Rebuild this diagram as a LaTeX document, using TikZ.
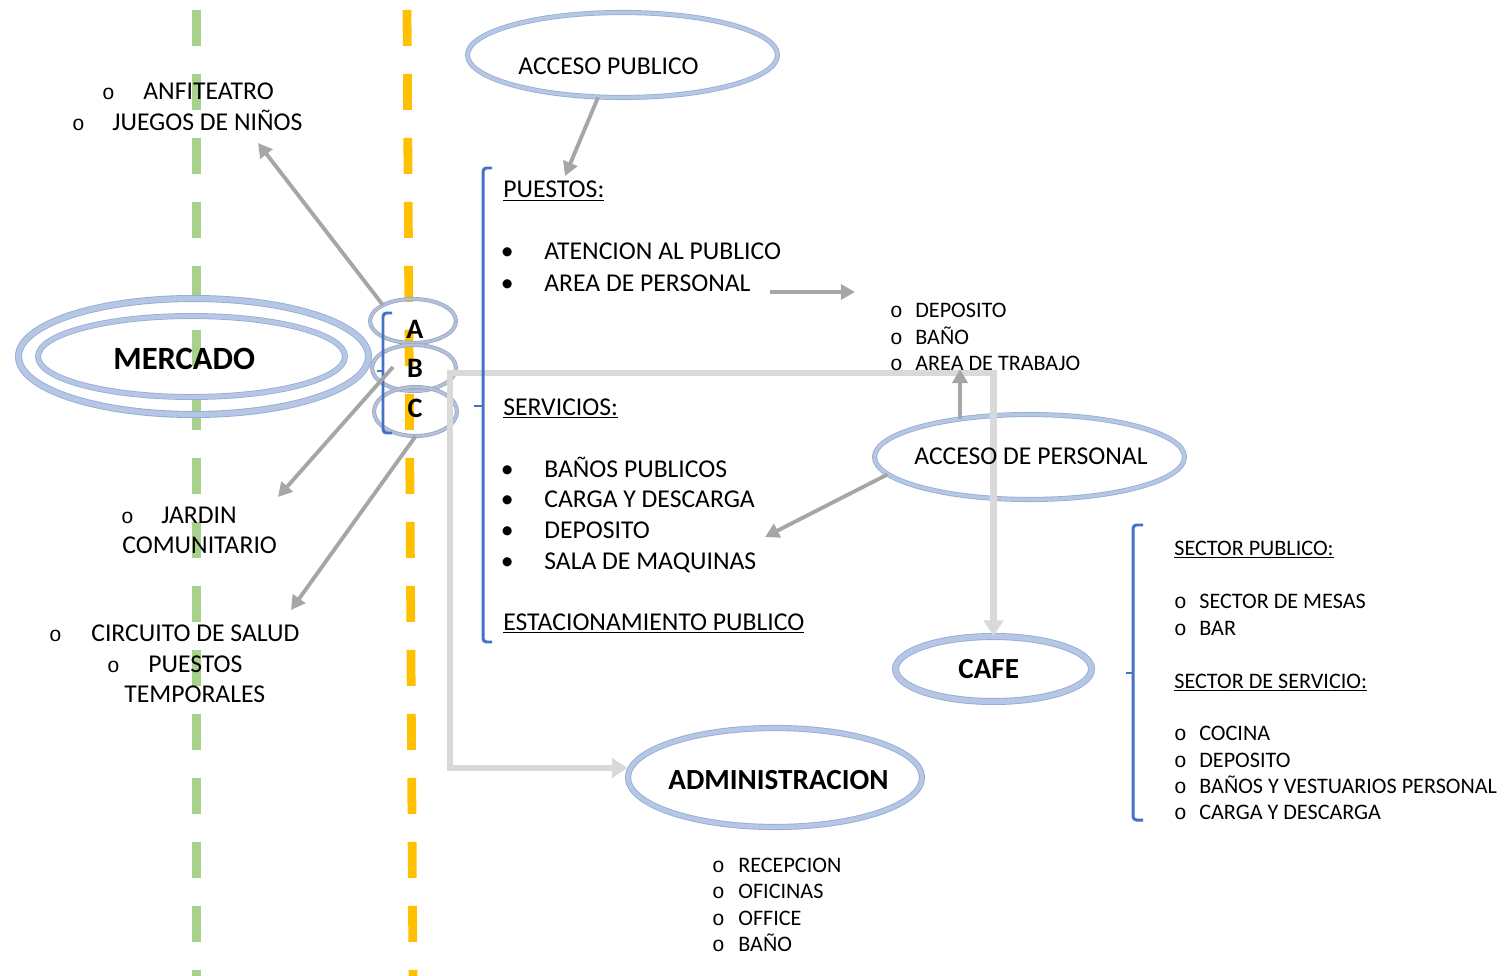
\documentclass[tikz,border=0pt]{standalone}
\usepackage{fontspec}
\setmainfont{Carlito}
\newfontfamily\monofnt{Liberation Mono}
\usetikzlibrary{shapes.geometric,arrows.meta,calc}
\newlength\pxl
\setlength\pxl{0.02cm}
\newcommand\obul{\makebox[0pt]{\monofnt\fontsize{12}{13}\selectfont o}}
\newcommand\dbul{\makebox[0pt]{•}}
\definecolor{ellout}{RGB}{150,172,212}
\definecolor{ellin}{RGB}{182,199,230}
\definecolor{abcout}{RGB}{150,165,195}
\definecolor{abcin}{RGB}{178,192,216}
\definecolor{brblue}{RGB}{68,114,196}
\definecolor{arrgray}{RGB}{166,166,166}
\definecolor{lgray}{RGB}{217,217,217}
\definecolor{dgreen}{RGB}{169,209,142}
\definecolor{dorange}{RGB}{255,192,0}
\begin{document}
\begin{tikzpicture}[x=0.02cm,y=-0.02cm,
  txt/.style={anchor=base west,inner sep=0pt,font=\fontsize{14.6}{17}\selectfont},
  stxt/.style={anchor=base west,inner sep=0pt,font=\fontsize{12.6}{15}\selectfont},
  btxt/.style={anchor=base west,inner sep=0pt,font=\bfseries\fontsize{16.6}{19}\selectfont},
  ell/.style={ellipse,inner sep=0pt,draw=ellout,double=ellin},
  abc/.style={ellipse,inner sep=0pt,draw=abcout,double=abcin,line width=0.4pt,double distance=1.5pt},
  brk/.style={draw=brblue,line width=1.7pt,rounded corners=2pt},
  garr/.style={draw=arrgray,line width=2.2pt,-{Triangle[length=8pt,width=8.5pt]}},
  lg/.style={draw=lgray,line width=3.6pt,{Triangle[length=9pt,width=11pt]}-{Triangle[length=9pt,width=11pt]}},
  dline/.style={line width=5pt,dash pattern=on 0.72cm off 0.56cm}
]
\useasboundingbox (0,0) rectangle (1510,976);

% dashed guide lines
\draw[dline,draw=dgreen] (196.5,10) -- (196.5,985);
\draw[dline,draw=dorange] (407,10) -- (413,985);

% ellipses
\node[ell,line width=0.5pt,double distance=3pt,minimum width=7cm,minimum height=2.32cm] (merc) at (193.5,356.5) {};
\node[ell,line width=0.45pt,double distance=2.5pt,minimum width=6.14cm,minimum height=1.62cm] (mercin) at (191.5,356.5) {};
\node[abc,minimum width=1.72cm,minimum height=0.88cm] (A) at (413,321) {};
\node[abc,minimum width=1.68cm,minimum height=0.92cm] (B) at (414,368) {};
\node[abc,minimum width=1.66cm,minimum height=0.98cm] (C) at (415.5,411.5) {};
\node[ell,line width=0.45pt,double distance=2pt,minimum width=6.2cm,minimum height=1.7cm] (AP) at (622.5,55) {};
\node[ell,line width=0.45pt,double distance=2pt,minimum width=6.2cm,minimum height=1.7cm] (APE) at (1029.5,457) {};
\node[ell,line width=0.5pt,double distance=3pt,minimum width=3.92cm,minimum height=1.3cm] (CAFE) at (993.5,669) {};
\node[ell,line width=0.5pt,double distance=2.5pt,minimum width=5.88cm,minimum height=1.98cm] (ADM) at (775,777.5) {};

% light grey connector
\coordinate (jn) at (450,373);
\draw[lg] ([yshift=0.19cm]ADM.west) -| (jn) -| (CAFE.north);

% brackets
\draw[brk] (492,168) -- (483,168) -- (483,642) -- (492,642);
\draw[brk] (483,406) -- (474,406);
\draw[brk] (392,313) -- (383,313) -- (383,433) -- (392,433);
\draw[brk] (383,371) -- (377,371);
\draw[brk] (1143,525) -- (1133,525) -- (1133,820) -- (1143,820);
\draw[brk] (1133,673) -- (1126,673);

% grey arrows
\coordinate (tjue) at (258,143);
\draw[garr] (A.152) -- (tjue);
\coordinate (bs) at (393,367);
\coordinate (tjar) at (278,497);
\draw[garr] (bs) -- (tjar);
\coordinate (tcir) at (291,610);
\draw[garr] (C.south) -- (tcir);
\coordinate (tpu) at (565,176);
\draw[garr] (AP.240) -- (tpu);
\coordinate (adps) at (770,292);
\coordinate (adpt) at (855,292);
\draw[garr] (adps) -- (adpt);
\coordinate (tup) at (960,369);
\draw[garr] (APE.151 -| tup) -- (tup);
\coordinate (tsv) at (765,537);
\draw[garr] (APE.187) -- (tsv);

% ellipse labels
\node[btxt,font=\bfseries\fontsize{18.5}{21}\selectfont] (tmerc) at (113,369) {MERCADO};
\node[btxt,anchor=base,font=\bfseries\fontsize{16}{19}\selectfont] (tA) at (415,338) {A};
\node[btxt,anchor=base,font=\bfseries\fontsize{16}{19}\selectfont] (tB) at (415,377) {B};
\node[btxt,anchor=base,font=\bfseries\fontsize{16}{19}\selectfont] (tC) at (415,417) {C};
\node[txt] (tAP) at (518,75) {ACCESO PUBLICO};
\node[txt] (tAPE) at (914,464) {ACCESO DE PERSONAL};
\node[btxt] (tCAFE) at (958,678) {CAFE};
\node[btxt] (tADM) at (668,789) {ADMINISTRACION};

% left lists
\node[txt] (anf) at (108,100) {\obul\hspace{35\pxl}ANFITEATRO};
\node[txt] (jue) at (78,131) {\obul\hspace{34\pxl}JUEGOS DE NIÑOS};
\node[txt] (jar) at (127,523) {\obul\hspace{34\pxl}JARDIN};
\node[txt] (com) at (122,553) {COMUNITARIO};
\node[txt] (cir) at (55,641) {\obul\hspace{36\pxl}CIRCUITO DE SALUD};
\node[txt] (pue) at (113,672) {\obul\hspace{35\pxl}PUESTOS};
\node[txt] (tem) at (124,702) {TEMPORALES};

% central lists
\node[txt] (put) at (503,198) {\underline{PUESTOS:}};
\node[txt] (ate) at (507,260) {\dbul\hspace{37\pxl}ATENCION AL PUBLICO};
\node[txt] (adp) at (507,292) {\dbul\hspace{37\pxl}AREA DE PERSONAL};
\node[stxt] (dep) at (896,317) {\obul\hspace{19\pxl}DEPOSITO};
\node[stxt] (ban) at (896,344) {\obul\hspace{19\pxl}BAÑO};
\node[stxt] (atr) at (896,370) {\obul\hspace{19\pxl}AREA DE TRABAJO};
\node[txt] (ser) at (503,415) {\underline{SERVICIOS:}};
\node[txt] (s1) at (507,477) {\dbul\hspace{37\pxl}BAÑOS PUBLICOS};
\node[txt] (s2) at (507,507.5) {\dbul\hspace{37\pxl}CARGA Y DESCARGA};
\node[txt] (s3) at (507,538) {\dbul\hspace{37\pxl}DEPOSITO};
\node[txt] (s4) at (507,569) {\dbul\hspace{37\pxl}SALA DE MAQUINAS};
\node[txt] (est) at (503,630) {\underline{ESTACIONAMIENTO PUBLICO}};

% administration list
\node[stxt] (r1) at (718,872) {\obul\hspace{20\pxl}RECEPCION};
\node[stxt] (r2) at (718,898) {\obul\hspace{20\pxl}OFICINAS};
\node[stxt] (r3) at (718,925) {\obul\hspace{20\pxl}OFFICE};
\node[stxt] (r4) at (718,951) {\obul\hspace{20\pxl}BAÑO};

% cafe list
\node[stxt] (sp) at (1174,555) {\underline{SECTOR PUBLICO:}};
\node[stxt] (c1) at (1180,608) {\obul\hspace{19\pxl}SECTOR DE MESAS};
\node[stxt] (c2) at (1180,635) {\obul\hspace{19\pxl}BAR};
\node[stxt] (ss) at (1174,688) {\underline{SECTOR DE SERVICIO:}};
\node[stxt] (c3) at (1180,740) {\obul\hspace{19\pxl}COCINA};
\node[stxt] (c4) at (1180,767) {\obul\hspace{19\pxl}DEPOSITO};
\node[stxt] (c5) at (1180,793) {\obul\hspace{19\pxl}BAÑOS Y VESTUARIOS PERSONAL};
\node[stxt] (c6) at (1180,819) {\obul\hspace{19\pxl}CARGA Y DESCARGA};
\end{tikzpicture}
\end{document}
